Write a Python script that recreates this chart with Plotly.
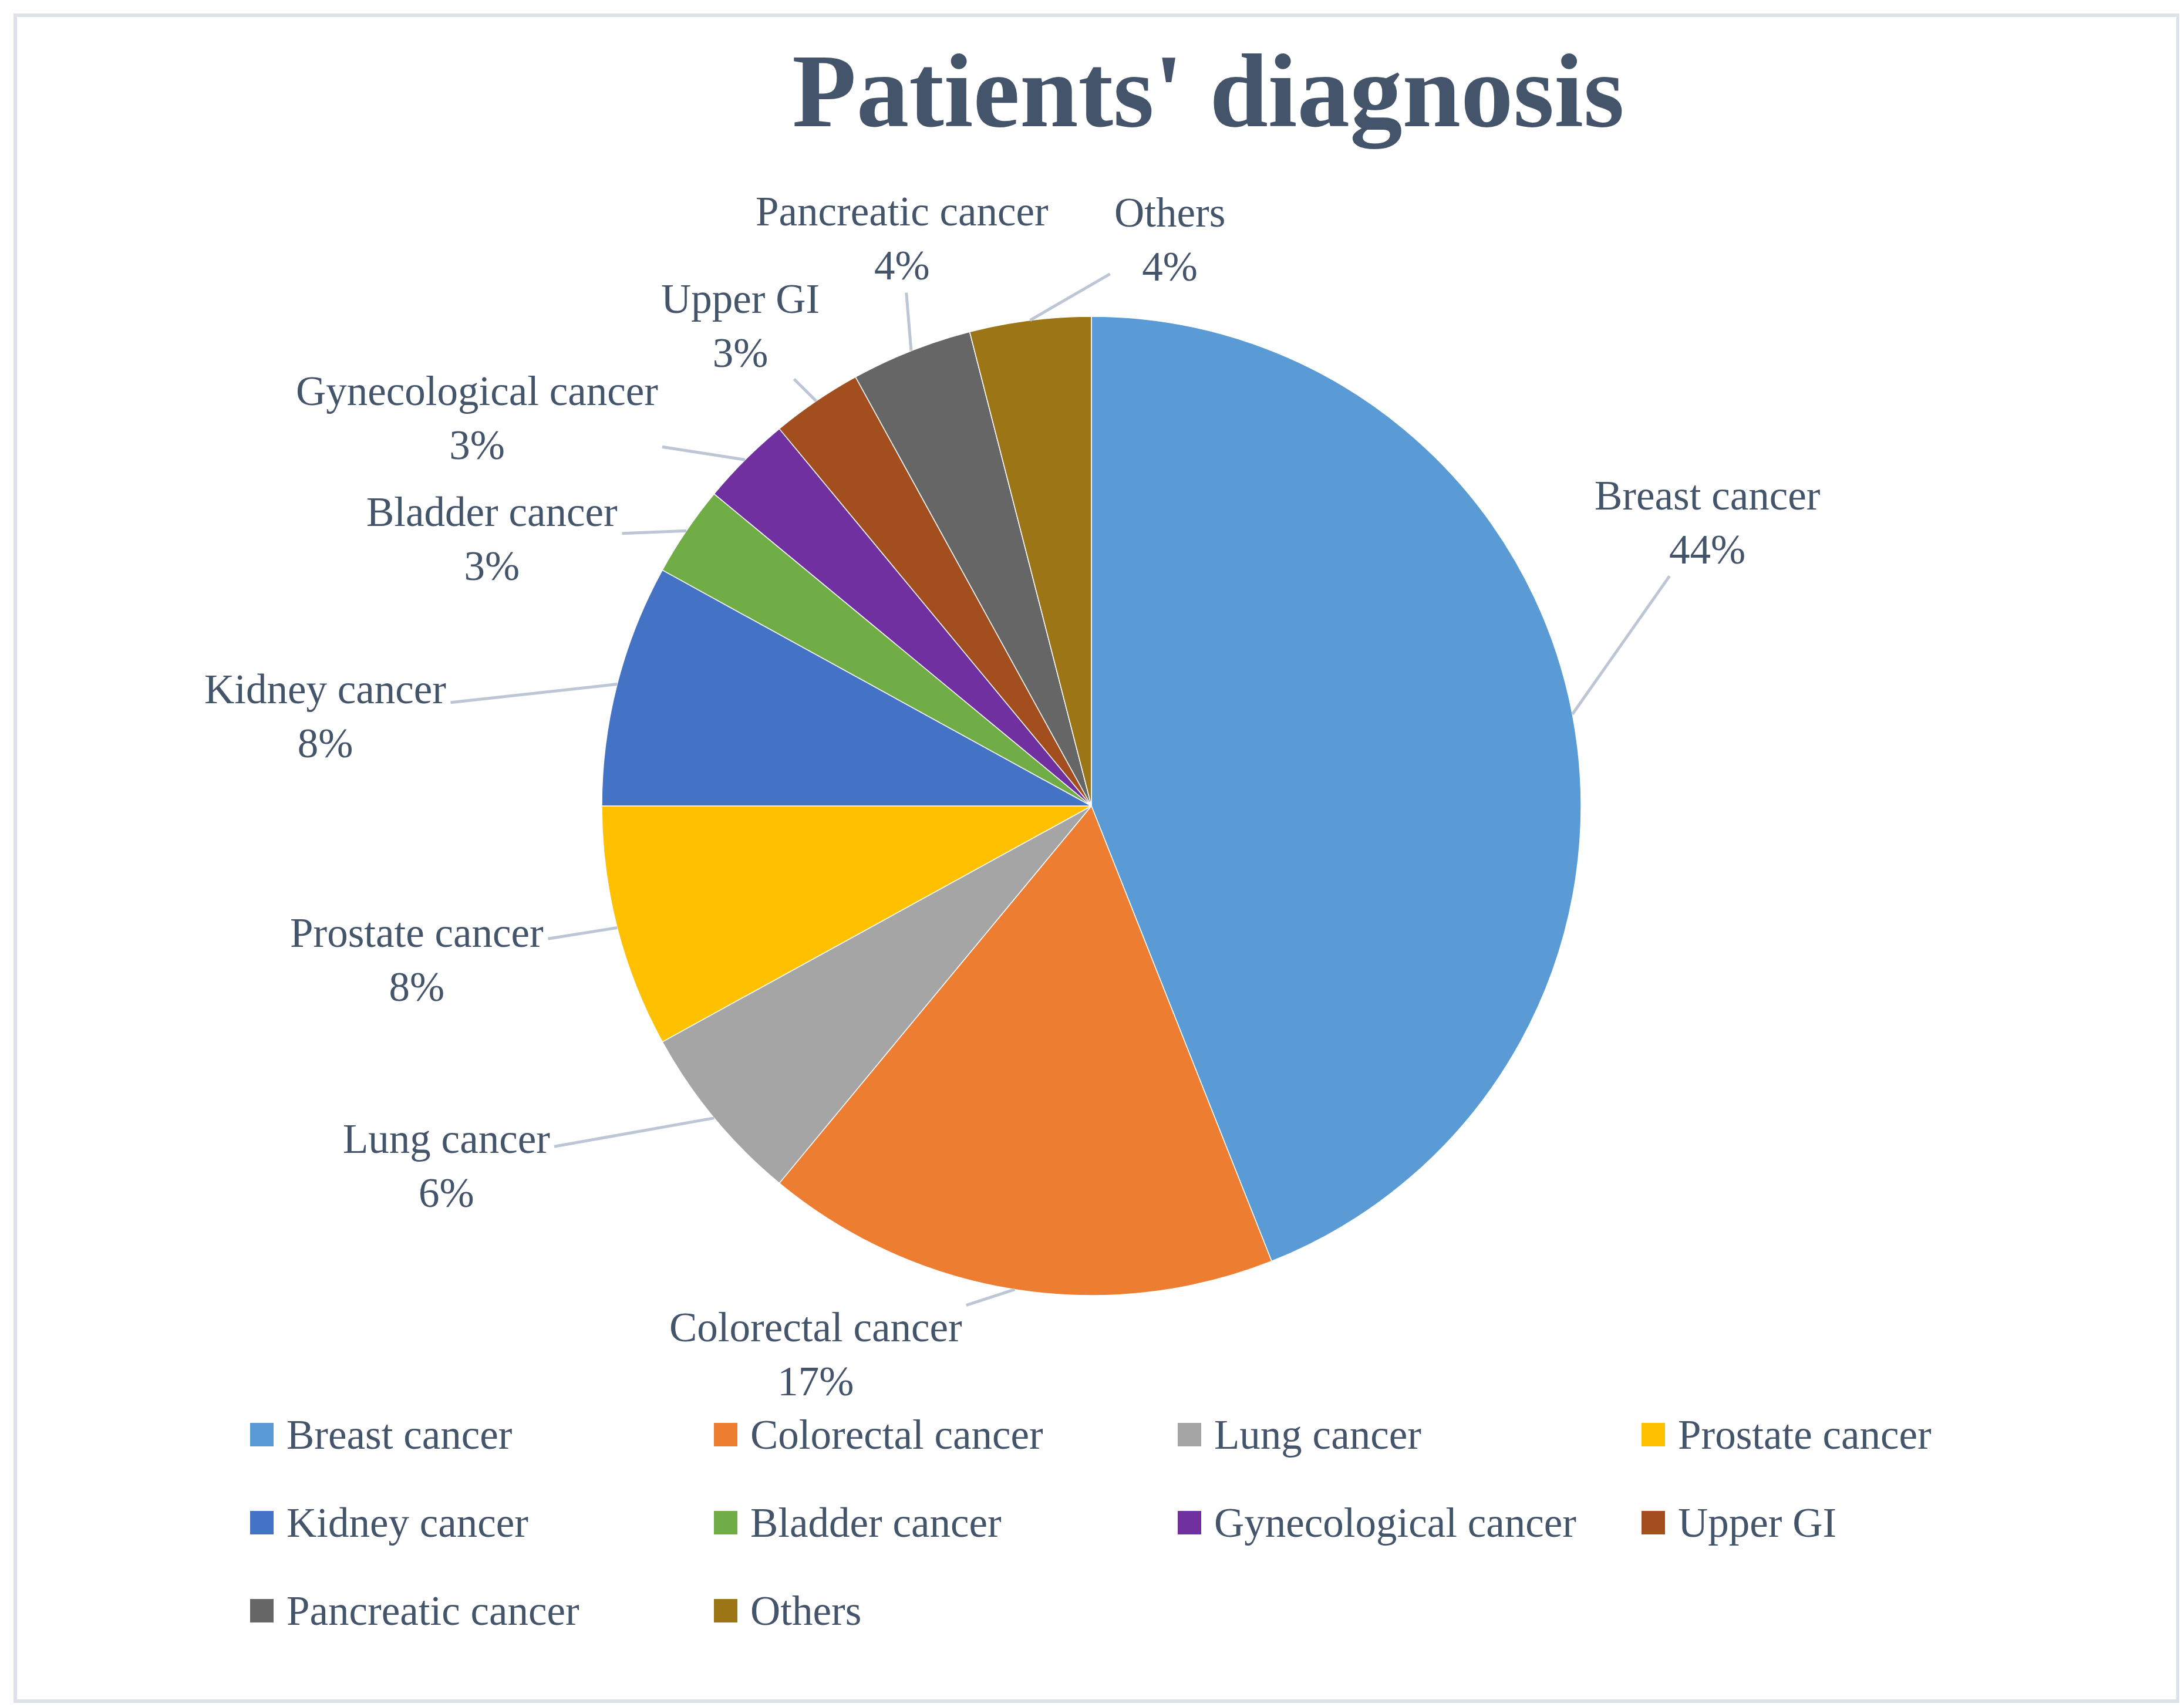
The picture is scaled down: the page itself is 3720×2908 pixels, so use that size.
import math
import plotly.graph_objects as go

# ---------------- data ----------------
categories = ["Breast cancer", "Colorectal cancer", "Lung cancer", "Prostate cancer",
              "Kidney cancer", "Bladder cancer", "Gynecological cancer", "Upper GI",
              "Pancreatic cancer", "Others"]
shares = [44, 17, 6, 8, 8, 3, 3, 3, 4, 4]
colors = ["#5B9BD5", "#ED7D31", "#A5A5A5", "#FFC000", "#4472C4",
          "#70AD47", "#7030A0", "#A34E1F", "#666666", "#9C7616"]
title_text = "Patients' diagnosis"

# ---------------- layout constants (pixels) ----------------
W, H = 3720, 2908
CX, CY, R = 1851, 1365, 834
TEXT_COLOR = "#44546A"
FONT = "Liberation Serif"
LABEL_SIZE = 71
# centre of each data-label text block
label_pos = [(2900, 882), (1381, 2299), (752, 1978), (702, 1627), (546, 1212),
             (830, 910), (804, 704), (1253, 547), (1528, 398), (1984, 400)]
LEG_X0, LEG_DX = 418, 790
LEG_Y0, LEG_DY = 2436, 150
LEG_COLS = 4
SQ = 40

fig = go.Figure()
fig.add_trace(go.Pie(
    labels=categories,
    values=shares,
    sort=False,
    direction="clockwise",
    rotation=0,
    textinfo="none",
    showlegend=False,
    marker=dict(colors=colors, line=dict(color="#FFFFFF", width=1.5)),
    domain=dict(x=[(CX - R) / W, (CX + R) / W], y=[1 - (CY + R) / H, 1 - (CY - R) / H]),
    hoverinfo="label+percent",
))

total = sum(shares)
annotations = []
shapes = []
cum = 0.0
for i, (cat, v) in enumerate(zip(categories, shares)):
    mid = (cum + v / 2) / total
    cum += v
    th = 2 * math.pi * mid
    px = CX + R * math.sin(th)
    py = CY - R * math.cos(th)
    lx, ly = label_pos[i]
    pct = round(v / total * 100)
    annotations.append(dict(
        x=px / W, y=1 - py / H, xref="paper", yref="paper",
        ax=lx - px, ay=ly - py, axref="pixel", ayref="pixel",
        text=f"{cat}<br>{pct}%", align="center",
        showarrow=True, arrowhead=0, arrowwidth=5, arrowcolor="#BCC6D4",
        standoff=0, startstandoff=6,
        font=dict(family=FONT, size=LABEL_SIZE, color=TEXT_COLOR),
    ))

# legend (grid of colour squares + names)
for i, cat in enumerate(categories):
    col, row = i % LEG_COLS, i // LEG_COLS
    x0 = LEG_X0 + col * LEG_DX
    yc = LEG_Y0 + row * LEG_DY
    shapes.append(dict(type="rect", xref="paper", yref="paper",
                       x0=x0 / W, x1=(x0 + SQ) / W,
                       y0=1 - (yc + SQ / 2) / H, y1=1 - (yc - SQ / 2) / H,
                       fillcolor=colors[i], line=dict(width=0)))
    annotations.append(dict(
        x=(x0 + 60) / W, y=1 - yc / H, xref="paper", yref="paper",
        xanchor="left", yanchor="middle", showarrow=False, text=cat,
        font=dict(family=FONT, size=LABEL_SIZE, color=TEXT_COLOR),
    ))

# outer border
shapes.append(dict(type="rect", xref="paper", yref="paper",
                   x0=18 / W, x1=1 - 18 / W, y0=18 / H, y1=1 - 18 / H,
                   line=dict(color="#DDE2EA", width=6), fillcolor="rgba(0,0,0,0)"))

fig.update_layout(
    width=W, height=H,
    margin=dict(l=0, r=0, t=0, b=0),
    paper_bgcolor="white", plot_bgcolor="white",
    title=dict(text=title_text, x=2050 / W, xanchor="center",
               y=1 - 144 / H, yanchor="middle",
               font=dict(family=FONT, size=179, color=TEXT_COLOR, weight=700)),
    annotations=annotations,
    shapes=shapes,
)

fig.write_html("out.html")
